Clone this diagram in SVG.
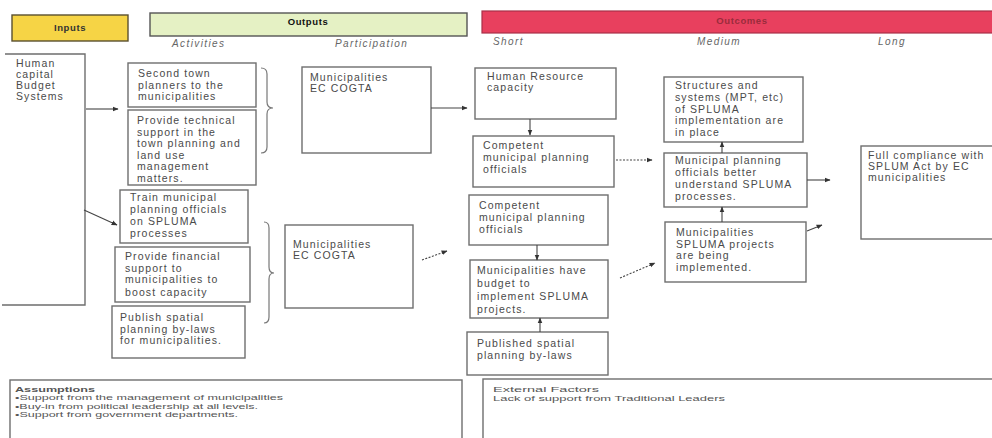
<svg xmlns="http://www.w3.org/2000/svg" width="992" height="438" viewBox="0 0 992 438">
<defs>
<marker id="ah" viewBox="0 0 10 10" refX="9" refY="5" markerWidth="6" markerHeight="6" orient="auto-start-reverse" markerUnits="userSpaceOnUse">
<path d="M0,1 L10,5 L0,9 z" fill="#333"/>
</marker>
<style>
.bx{fill:#fff;stroke:#6e6e6e;stroke-width:1.4}
.t{font-family:"Liberation Sans",Arial,sans-serif;font-size:10.5px;letter-spacing:1.1px;fill:#4a4a4a}
.s{font-family:"Liberation Sans",Arial,sans-serif;font-size:10px;font-style:italic;letter-spacing:1.4px;fill:#666}
.h{font-family:"Liberation Sans",Arial,sans-serif;font-size:9.5px;font-weight:bold;letter-spacing:0.6px}
.f{font-family:"Liberation Sans",Arial,sans-serif;font-size:7px;fill:#555}
.c{fill:none;stroke:#444;stroke-width:1.1}
.d{fill:none;stroke:#444;stroke-width:1.1;stroke-dasharray:2 1.5}
.br{fill:none;stroke:#777;stroke-width:1.2}
</style>
</defs>

<g id="header-inputs">
<rect x="12" y="15" width="116" height="26" fill="#f6d445" stroke="#5a5030" stroke-width="1.4"/>
<text class="h" x="70" y="31" text-anchor="middle" fill="#333">Inputs</text>
</g>
<g id="header-outputs">
<rect x="150" y="13" width="317" height="23" fill="#e5f1c4" stroke="#555" stroke-width="1.4"/>
<text class="h" x="308" y="24.5" text-anchor="middle" fill="#111">Outputs</text>
</g>
<g id="header-outcomes">
<rect x="482" y="11" width="512" height="22" fill="#e8405e" stroke="#a83048" stroke-width="1.2"/>
<text class="h" x="742" y="24" text-anchor="middle" fill="#9a2c3c" font-weight="normal">Outcomes</text>
</g>

<g id="sublabels">
<text class="s" x="172" y="47">Activities</text>
<text class="s" x="335" y="47">Participation</text>
<text class="s" x="493" y="45">Short</text>
<text class="s" x="697" y="45">Medium</text>
<text class="s" x="878" y="45">Long</text>
</g>

<g id="inputs">
<path d="M5,54 H85 V305 H2" fill="none" stroke="#6e6e6e" stroke-width="1.4"/>
<text class="t" x="16"><tspan x="16" y="67">Human</tspan><tspan x="16" y="78">capital</tspan><tspan x="16" y="89">Budget</tspan><tspan x="16" y="100">Systems</tspan></text>
</g>

<g id="act1">
<rect class="bx" x="128" y="63" width="128" height="44"/>
<text class="t"><tspan x="138" y="77">Second town</tspan><tspan x="138" y="88.5">planners to the</tspan><tspan x="138" y="100">municipalities</tspan></text>
</g>
<g id="act2">
<rect class="bx" x="128" y="110" width="128" height="75"/>
<text class="t"><tspan x="137" y="124">Provide technical</tspan><tspan x="137" y="135.5">support in the</tspan><tspan x="137" y="147">town planning and</tspan><tspan x="137" y="158.5">land use</tspan><tspan x="137" y="170">management</tspan><tspan x="137" y="181.5">matters.</tspan></text>
</g>
<g id="act3">
<rect class="bx" x="120" y="190" width="128" height="53"/>
<text class="t"><tspan x="130" y="201">Train municipal</tspan><tspan x="130" y="213">planning officials</tspan><tspan x="130" y="225">on SPLUMA</tspan><tspan x="130" y="237">processes</tspan></text>
</g>
<g id="act4">
<rect class="bx" x="115" y="247" width="135" height="55"/>
<text class="t"><tspan x="125" y="260">Provide financial</tspan><tspan x="125" y="271.5">support to</tspan><tspan x="125" y="283">municipalities to</tspan><tspan x="125" y="296">boost capacity</tspan></text>
</g>
<g id="act5">
<rect class="bx" x="112" y="306" width="133" height="52"/>
<text class="t"><tspan x="120" y="321">Publish spatial</tspan><tspan x="120" y="332.5">planning by-laws</tspan><tspan x="120" y="344">for municipalities.</tspan></text>
</g>

<g id="braces">
<path class="br" d="M261,68 q6,0 6,6 L267,102 q0,6 6,6 q-6,0 -6,6 L267,147 q0,6 -6,6"/>
<path class="br" d="M264,222 q5,0 5,6 L269,267 q0,6 5,6 q-5,0 -5,6 L269,317 q0,6 -5,6"/>
</g>

<g id="part1">
<rect class="bx" x="302" y="67" width="129" height="86"/>
<text class="t"><tspan x="310" y="81">Municipalities</tspan><tspan x="310" y="92">EC COGTA</tspan></text>
</g>
<g id="part2">
<rect class="bx" x="285" y="225" width="128" height="83"/>
<text class="t"><tspan x="293" y="248">Municipalities</tspan><tspan x="293" y="259">EC COGTA</tspan></text>
</g>

<g id="short1">
<rect class="bx" x="475" y="68" width="141" height="51"/>
<text class="t"><tspan x="487" y="80">Human Resource</tspan><tspan x="487" y="91">capacity</tspan></text>
</g>
<g id="short2">
<rect class="bx" x="473" y="136" width="141" height="51"/>
<text class="t"><tspan x="483" y="149">Competent</tspan><tspan x="483" y="161">municipal planning</tspan><tspan x="483" y="172.5">officials</tspan></text>
</g>
<g id="short3">
<rect class="bx" x="469" y="195" width="139" height="50"/>
<text class="t"><tspan x="479" y="209">Competent</tspan><tspan x="479" y="221">municipal planning</tspan><tspan x="479" y="232.5">officials</tspan></text>
</g>
<g id="short4">
<rect class="bx" x="470" y="260" width="138" height="58"/>
<text class="t"><tspan x="477" y="274">Municipalities have</tspan><tspan x="477" y="287">budget to</tspan><tspan x="477" y="300">implement SPLUMA</tspan><tspan x="477" y="313">projects.</tspan></text>
</g>
<g id="short5">
<rect class="bx" x="467" y="332" width="141" height="43"/>
<text class="t"><tspan x="477" y="347">Published spatial</tspan><tspan x="477" y="359">planning by-laws</tspan></text>
</g>

<g id="med1">
<rect class="bx" x="664" y="77" width="139" height="65"/>
<text class="t"><tspan x="675" y="89">Structures and</tspan><tspan x="675" y="101">systems (MPT, etc)</tspan><tspan x="675" y="112.5">of SPLUMA</tspan><tspan x="675" y="124">implementation are</tspan><tspan x="675" y="136">in place</tspan></text>
</g>
<g id="med2">
<rect class="bx" x="664" y="153" width="143" height="54"/>
<text class="t"><tspan x="675" y="164">Municipal planning</tspan><tspan x="675" y="176">officials better</tspan><tspan x="675" y="188">understand SPLUMA</tspan><tspan x="675" y="200">processes.</tspan></text>
</g>
<g id="med3">
<rect class="bx" x="665" y="222" width="141" height="60"/>
<text class="t"><tspan x="676" y="236">Municipalities</tspan><tspan x="676" y="247.5">SPLUMA projects</tspan><tspan x="676" y="259">are being</tspan><tspan x="676" y="271">implemented.</tspan></text>
</g>

<g id="long1">
<rect class="bx" x="861" y="146" width="135" height="93"/>
<text class="t"><tspan x="868" y="159">Full compliance with</tspan><tspan x="868" y="170">SPLUM Act by EC</tspan><tspan x="868" y="181">municipalities</tspan></text>
</g>

<g id="assumptions">
<rect class="bx" x="10" y="380" width="452" height="62"/>
<text class="f" x="15" y="391.5" font-weight="bold" textLength="80" lengthAdjust="spacingAndGlyphs">Assumptions</text>
<text class="f" x="15" y="400" textLength="268" lengthAdjust="spacingAndGlyphs">•Support from the management of municipalities</text>
<text class="f" x="15" y="408.5" textLength="243" lengthAdjust="spacingAndGlyphs">•Buy-in from political leadership at all levels.</text>
<text class="f" x="15" y="417" textLength="223" lengthAdjust="spacingAndGlyphs">•Support from government departments.</text>
</g>
<g id="external">
<rect class="bx" x="483" y="379" width="512" height="63"/>
<text class="f" x="493" y="391.5" textLength="106" lengthAdjust="spacingAndGlyphs">External Factors</text>
<text class="f" x="493" y="400.5" textLength="232" lengthAdjust="spacingAndGlyphs">Lack of support from Traditional Leaders</text>
</g>

<g id="connectors">
<line class="c" x1="86" y1="109" x2="118" y2="109" marker-end="url(#ah)"/>
<line class="c" x1="84" y1="210" x2="117" y2="225" marker-end="url(#ah)"/>
<line class="c" x1="431" y1="108" x2="467" y2="108" marker-end="url(#ah)"/>
<line class="d" x1="422" y1="260" x2="447" y2="251" marker-end="url(#ah)"/>
<line class="c" x1="530" y1="119" x2="530" y2="135" marker-end="url(#ah)"/>
<line class="c" x1="537" y1="245" x2="537" y2="260" marker-end="url(#ah)"/>
<line class="c" x1="540" y1="332" x2="540" y2="318" marker-end="url(#ah)"/>
<line class="d" x1="616" y1="160" x2="652" y2="160" marker-end="url(#ah)"/>
<line class="d" x1="620" y1="278" x2="655" y2="263" marker-end="url(#ah)"/>
<line class="c" x1="722" y1="153" x2="722" y2="142" marker-end="url(#ah)"/>
<line class="c" x1="722" y1="222" x2="722" y2="207" marker-end="url(#ah)"/>
<line class="c" x1="807" y1="180" x2="830" y2="180" marker-end="url(#ah)"/>
<line class="c" x1="807" y1="231" x2="822" y2="225" marker-end="url(#ah)"/>
</g>
</svg>
